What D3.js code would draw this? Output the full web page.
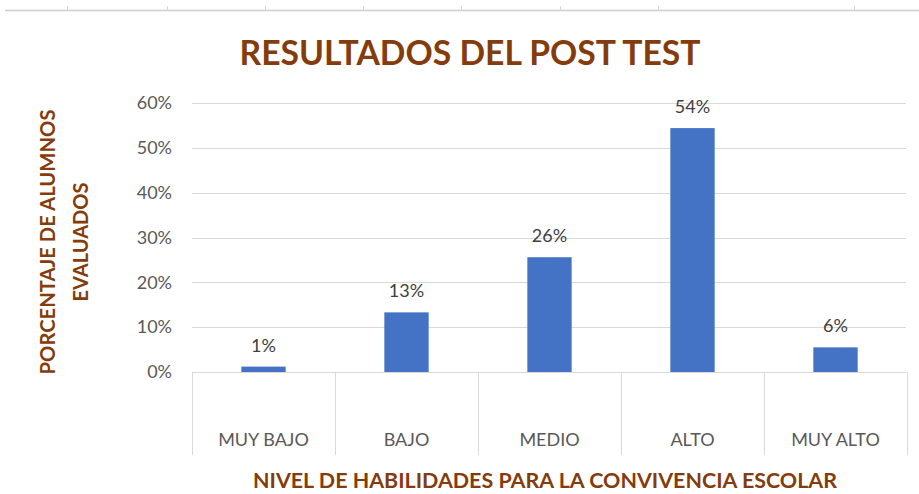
<!DOCTYPE html>
<html>
<head>
<meta charset="utf-8">
<script src="https://cdn.jsdelivr.net/npm/d3@7"></script>
<style>
  body { margin: 0; background: #fff; }
  svg { display: block; font-family: Lato, "Open Sans", sans-serif; }
</style>
</head>
<body>
<div id="chart"></div>
<script>
const W = 919
const H = 494

// data
const categories = ["MUY BAJO", "BAJO", "MEDIO", "ALTO", "MUY ALTO"]
const values = [0.012, 0.133, 0.256, 0.544, 0.055]
const labels = ["1%", "13%", "26%", "54%", "6%"]
const yTicks = [0, 0.1, 0.2, 0.3, 0.4, 0.5, 0.6]
// spreadsheet column marks along the top edge
const colMarks = [67, 167, 265, 363, 461, 560, 658, 854]

const svg = d3.select("#chart")
    .append("svg")
    .attr("width", W)
    .attr("height", H)

// top sheet edge
svg.append("line")
    .attr("x1", 5).attr("x2", W)
    .attr("y1", 10.5).attr("y2", 10.5)
    .attr("stroke", "#cfcfcf").attr("stroke-width", 1.5)
svg.selectAll(".colmark")
    .data(colMarks)
    .enter()
    .append("line")
    .attr("x1", d => d + 0.5).attr("x2", d => d + 0.5)
    .attr("y1", 6).attr("y2", 10)
    .attr("stroke", "#d6d6d6")

let x = d3.scaleBand()
    .domain(categories)
    .range([192, 907])
    .padding(0)

let y = d3.scaleLinear()
    .domain([0, 0.6])
    .range([372, 103])

// gridlines
svg.append("g")
    .selectAll("line")
    .data(yTicks)
    .enter()
    .append("line")
    .attr("x1", 192).attr("x2", 906)
    .attr("y1", d => Math.round(y(d)) + 0.5)
    .attr("y2", d => Math.round(y(d)) + 0.5)
    .attr("stroke", "#d9d9d9")
    .attr("stroke-width", 1)

// y tick labels
svg.append("g")
    .selectAll("text")
    .data(yTicks)
    .enter()
    .append("text")
    .attr("x", 172)
    .attr("y", d => y(d))
    .attr("dy", "0.35em")
    .attr("text-anchor", "end")
    .attr("fill", "#595959")
    .attr("font-size", 18)
    .text(d3.format(".0%"))

// category separators below axis
const edges = categories.map(c => x(c)).concat([x.range()[1]])
svg.append("g")
    .selectAll("line")
    .data(edges)
    .enter()
    .append("line")
    .attr("x1", d => Math.round(d) + 0.5).attr("x2", d => Math.round(d) + 0.5)
    .attr("y1", y(0)).attr("y2", 455)
    .attr("stroke", "#d9d9d9")

// category labels
svg.append("g")
    .selectAll("text")
    .data(categories)
    .enter()
    .append("text")
    .attr("x", d => x(d) + x.bandwidth() / 2)
    .attr("y", 440)
    .attr("dy", "0.35em")
    .attr("text-anchor", "middle")
    .attr("fill", "#595959")
    .attr("font-size", 18)
    .text(d => d)

// bars
let barW = x.bandwidth() * 0.31
svg.append("g")
    .selectAll("rect")
    .data(values)
    .enter()
    .append("rect")
    .attr("x", (d, i) => x(categories[i]) + (x.bandwidth() - barW) / 2)
    .attr("y", d => y(d))
    .attr("width", barW)
    .attr("height", d => y(0) - y(d))
    .attr("fill", "#4472c4")

// value labels
svg.append("g")
    .selectAll("text")
    .data(values)
    .enter()
    .append("text")
    .attr("x", (d, i) => x(categories[i]) + x.bandwidth() / 2)
    .attr("y", d => y(d) - 15)
    .attr("text-anchor", "middle")
    .attr("fill", "#404040")
    .attr("font-size", 18)
    .text((d, i) => labels[i])

// titles
svg.append("text")
    .attr("x", 470)
    .attr("y", 65)
    .attr("text-anchor", "middle")
    .attr("fill", "#843c0c")
    .attr("font-size", 34)
    .attr("font-weight", "bold")
    .attr("textLength", 461)
    .attr("lengthAdjust", "spacingAndGlyphs")
    .text("RESULTADOS DEL POST TEST")

svg.append("text")
    .attr("x", 545)
    .attr("y", 488)
    .attr("text-anchor", "middle")
    .attr("fill", "#843c0c")
    .attr("font-size", 20)
    .attr("font-weight", "bold")
    .attr("textLength", 584)
    .attr("lengthAdjust", "spacingAndGlyphs")
    .text("NIVEL DE HABILIDADES PARA LA CONVIVENCIA ESCOLAR")

let yTitle = svg.append("g")
    .attr("transform", "translate(0,242) rotate(-90)")
yTitle.append("text")
    .attr("x", 0).attr("y", 55)
    .attr("text-anchor", "middle")
    .attr("fill", "#843c0c")
    .attr("font-size", 20)
    .attr("font-weight", "bold")
    .attr("textLength", 265)
    .attr("lengthAdjust", "spacingAndGlyphs")
    .text("PORCENTAJE DE ALUMNOS")
yTitle.append("text")
    .attr("x", 0).attr("y", 88)
    .attr("text-anchor", "middle")
    .attr("fill", "#843c0c")
    .attr("font-size", 20)
    .attr("font-weight", "bold")
    .attr("textLength", 119)
    .attr("lengthAdjust", "spacingAndGlyphs")
    .text("EVALUADOS")
</script>
</body>
</html>
